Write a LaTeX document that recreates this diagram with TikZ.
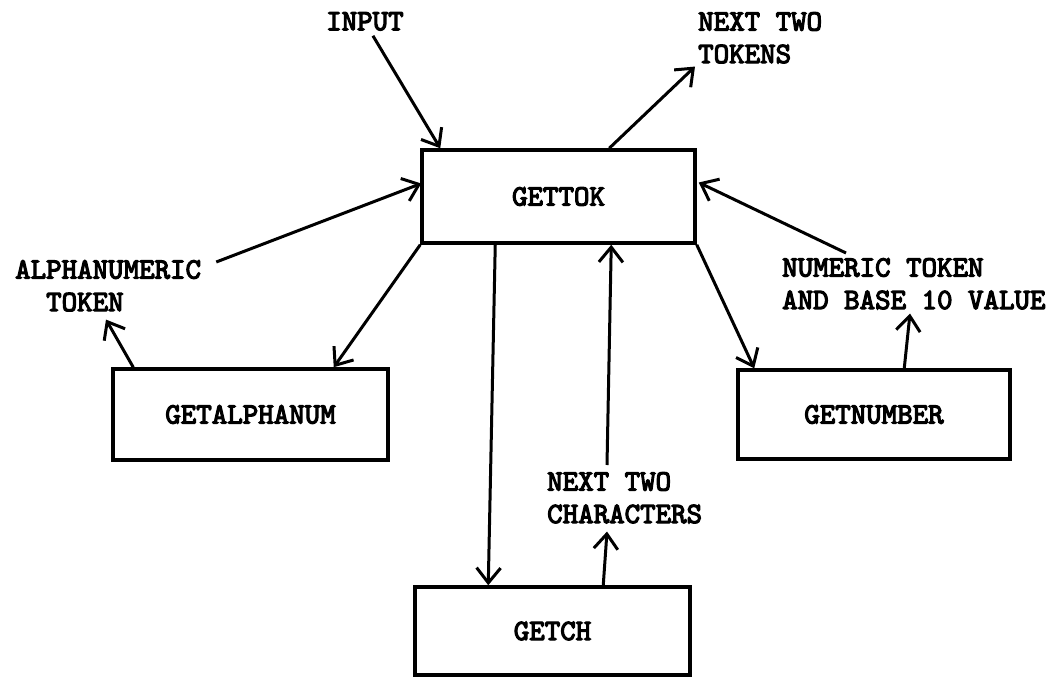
\documentclass[tikz,border=0pt]{standalone}
\usepackage{fontspec}
\setmonofont{lmmono10-regular.otf}[AutoFakeBold=4]
\usetikzlibrary{arrows.meta,calc}
\tikzset{
  box/.style={draw, line width=3.5pt, rectangle, inner sep=0pt, font=\tw},
  lbl/.style={inner sep=0pt, align=left, anchor=north west, font=\tw},
  arr/.style={line width=3pt, -{Straight Barb[length=15pt,width=24pt,line width=3pt]}}
}
\newcommand{\tw}{\ttfamily\bfseries\fontsize{29.5pt}{32.5pt}\selectfont}
\begin{document}
\begin{tikzpicture}[x=1pt,y=-1pt]
\useasboundingbox (0,0) rectangle (1052,677);
% boxes
\node[box, minimum width=273pt, minimum height=93pt] (gettok) at (558.5,196.5) {GETTOK};
\node[box, minimum width=275pt, minimum height=91pt] (getalphanum) at (250.5,414.5) {GETALPHANUM};
\node[box, minimum width=272pt, minimum height=89pt] (getnumber) at (874,414.5) {GETNUMBER};
\node[box, minimum width=275pt, minimum height=88pt] (getch) at (552.5,631) {GETCH};
% labels
\node[lbl] (input) at (326,12) {INPUT};
\node[lbl] (nexttok) at (698,12) {NEXT TWO\\TOKENS};
\node[lbl] (alnum) at (15,260) {ALPHANUMERIC\\\phantom{AL}TOKEN};
\node[lbl] (numtok) at (782,258) {NUMERIC TOKEN\\AND BASE 10 VALUE};
\node[lbl] (nextch) at (547,472) {NEXT TWO\\CHARACTERS};
% connectors
\draw[arr] ($(input.south)+(8,5)$) -- ($(gettok.north west)+(20,0)$);
\draw[arr] ($(gettok.north west)+(189,0)$) -- ($(nexttok.south west)+(-3,3)$);
\draw[arr] ($(alnum.north east)+(15,2)$) -- ($(gettok.west)+(1,-13)$);
\draw[arr] ($(getalphanum.north west)+(22,0)$) -- ($(alnum.south west)+(91,8)$);
\draw[arr] (gettok.south west) -- ($(getalphanum.north east)+(-56,0)$);
\draw[arr] ($(gettok.south west)+(75,0)$) -- ($(getch.north west)+(75,0)$);
\draw[arr] ($(nextch.north west)+(60,-7)$) -- ($(gettok.south west)+(191,0)$);
\draw[arr] ($(getch.north west)+(190,0)$) -- ($(nextch.south west)+(60,8)$);
\draw[arr] (gettok.south east) -- ($(getnumber.north west)+(18,0)$);
\draw[arr] ($(numtok.north west)+(64,-5)$) -- ($(gettok.east)+(2,-14)$);
\draw[arr] ($(getnumber.north west)+(168,0)$) -- ($(numtok.south west)+(128,4)$);
\end{tikzpicture}
\end{document}
